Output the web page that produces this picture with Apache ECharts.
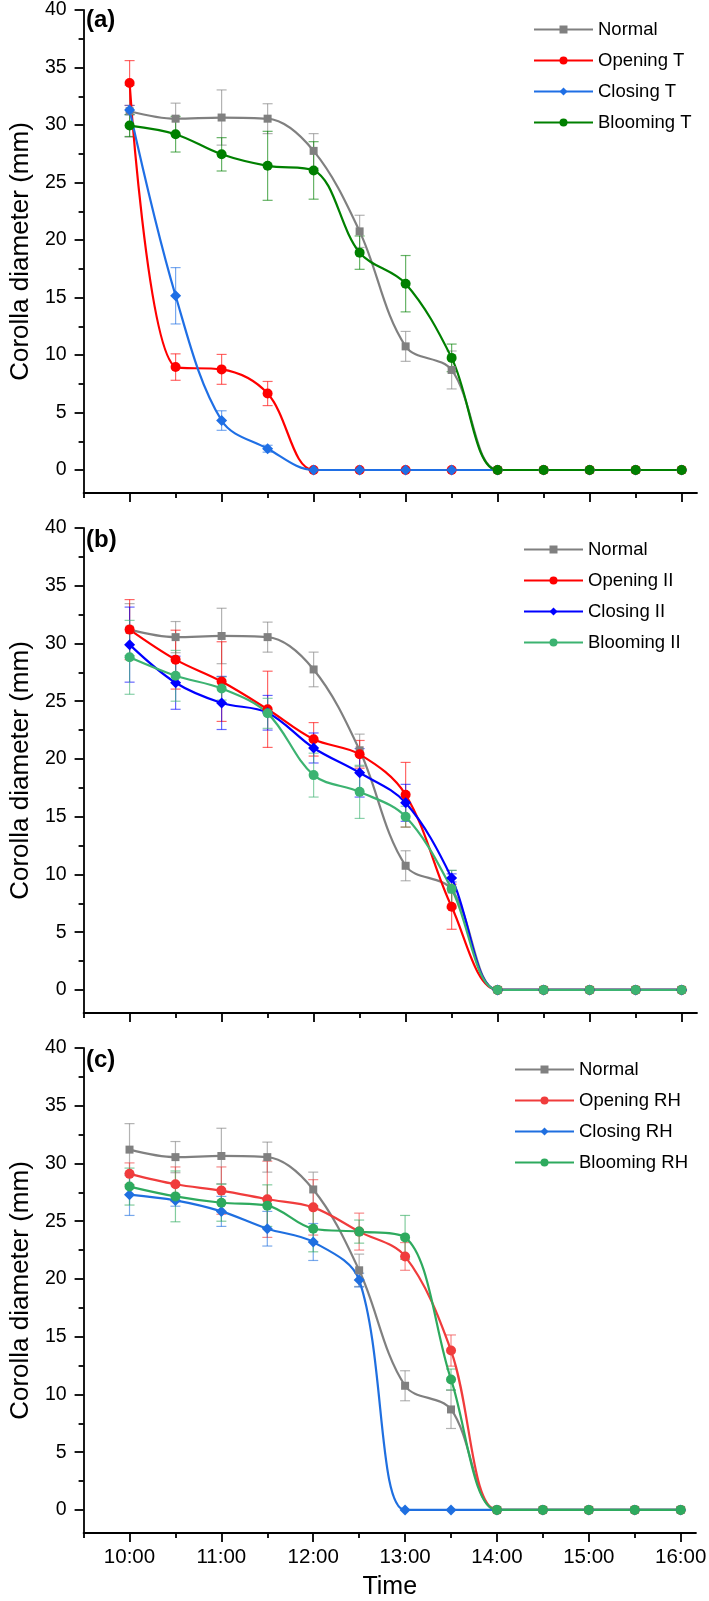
<!DOCTYPE html>
<html>
<head>
<meta charset="utf-8">
<script src="https://cdn.jsdelivr.net/npm/echarts@6/dist/echarts.min.js"></script>
<style>
  html, body { margin: 0; padding: 0; background: #fff; }
  #chart { width: 709px; height: 1601px; }
</style>
</head>
<body>
<div id="chart"></div>
<script>
// time points (every 30 min)
const times = ['10:00', '10:30', '11:00', '11:30', '12:00', '12:30', '13:00',
  '13:30', '14:00', '14:30', '15:00', '15:30', '16:00']
const yTicks = [0, 5, 10, 15, 20, 25, 30, 35, 40]
const hourTicks = ['10:00', '11:00', '12:00', '13:00', '14:00', '15:00', '16:00']

// Normal (same control in all panels)
const normal = [31.2, 30.55, 30.65, 30.55, 27.75, 20.75, 10.75, 8.7, 0, 0, 0, 0, 0]
const normalErr = [2.25, 1.35, 2.4, 1.3, 1.5, 1.4, 1.3, 1.65, 0, 0, 0, 0, 0]

// (a) temperature
const openingT = [33.65, 8.95, 8.75, 6.65, 0, 0, 0, 0, 0, 0, 0, 0, 0]
const openingTErr = [1.95, 1.15, 1.3, 1.05, 0, 0, 0, 0, 0, 0, 0, 0, 0]
const closingT = [31.3, 15.15, 4.3, 1.85, 0, 0, 0, 0, 0, 0, 0, 0, 0]
const closingTErr = [0.4, 2.45, 0.85, 0.3, 0, 0, 0, 0, 0, 0, 0, 0, 0]
const bloomingT = [29.95, 29.2, 27.45, 26.45, 26.05, 18.9, 16.2, 9.75, 0, 0, 0, 0, 0]
const bloomingTErr = [0.95, 1.55, 1.45, 3.0, 2.5, 1.45, 2.45, 1.2, 0, 0, 0, 0, 0]

// (b) light
const openingII = [31.2, 28.6, 26.7, 24.3, 21.7, 20.4, 16.9, 7.2, 0, 0, 0, 0, 0]
const openingIIErr = [2.6, 2.55, 3.45, 3.3, 1.45, 1.2, 2.8, 1.95, 0, 0, 0, 0, 0]
const closingII = [29.9, 26.6, 24.85, 24.0, 20.95, 18.8, 16.2, 9.7, 0, 0, 0, 0, 0]
const closingIIErr = [3.25, 2.3, 2.3, 1.5, 1.3, 2.1, 1.6, 0.35, 0, 0, 0, 0, 0]
const bloomingII = [28.8, 27.2, 26.1, 23.95, 18.6, 17.15, 15.0, 8.75, 0, 0, 0, 0, 0]
const bloomingIIErr = [3.2, 2.2, 1.0, 1.3, 1.9, 2.3, 0.9, 1.6, 0, 0, 0, 0, 0]

// (c) humidity
const openingRH = [29.1, 28.2, 27.65, 26.9, 26.2, 24.1, 21.95, 13.8, 0, 0, 0, 0, 0]
const openingRHErr = [0.95, 1.5, 2.05, 3.3, 2.4, 1.6, 1.2, 1.35, 0, 0, 0, 0, 0]
const closingRH = [27.3, 26.8, 25.85, 24.35, 23.2, 19.9, 0, 0, 0, 0, 0, 0, 0]
const closingRHErr = [1.8, 0.5, 1.3, 1.5, 1.6, 0.6, 0, 0, 0, 0, 0, 0, 0]
const bloomingRH = [28.0, 27.15, 26.6, 26.35, 24.35, 24.1, 23.6, 11.3, 0, 0, 0, 0, 0]
const bloomingRHErr = [1.6, 2.2, 1.6, 1.8, 2.0, 1.0, 1.9, 0.9, 0, 0, 0, 0, 0]

const panels = [
  { tag: '(a)', top: 8, legendLeft: 528,
    names: ['Normal', 'Opening T', 'Closing T', 'Blooming T'],
    colors: ['#808080', '#ff0000', '#1f6fe5', '#008000'],
    means: [normal, openingT, closingT, bloomingT],
    errs: [normalErr, openingTErr, closingTErr, bloomingTErr] },
  { tag: '(b)', top: 528, legendLeft: 518,
    names: ['Normal', 'Opening II', 'Closing II', 'Blooming II'],
    colors: ['#808080', '#ff0000', '#0000ff', '#3cb371'],
    means: [normal, openingII, closingII, bloomingII],
    errs: [normalErr, openingIIErr, closingIIErr, bloomingIIErr] },
  { tag: '(c)', top: 1048, legendLeft: 509,
    names: ['Normal', 'Opening RH', 'Closing RH', 'Blooming RH'],
    colors: ['#808080', '#f03c3c', '#1f6fe0', '#2eaa5e'],
    means: [normal, openingRH, closingRH, bloomingRH],
    errs: [normalErr, openingRHErr, closingRHErr, bloomingRHErr] }
]
const symbols = ['rect', 'circle', 'diamond', 'circle']
const symbolSizes = [8, 10, 11, 10]

const FONT = 'Arial, "Liberation Sans", sans-serif'
const gridH = 485

function toMin(t) {
  let p = t.split(':')
  return (+p[0] - 10) * 60 + (+p[1])
}
function fmtMin(v) {
  let h = 10 + Math.floor(v / 60)
  let m = v % 60
  return h + ':' + (m < 10 ? '0' + m : m)
}
function fade(hex, a) {
  let n = parseInt(hex.slice(1), 16)
  return 'rgba(' + (n >> 16) + ',' + ((n >> 8) & 255) + ',' + (n & 255) + ',' + a + ')'
}

const majorX = hourTicks.map(toMin)
const minorX = [-30].concat(times.map(toMin).filter(v => v % 60 !== 0))
const minorY = yTicks.slice(0, -1).map(v => v + 2.5)

let grid = [], xAxis = [], yAxis = [], series = [], legend = [], title = []

panels.forEach((p, i) => {
  let last = i === panels.length - 1
  grid.push({ left: 71, right: 12, top: p.top, height: gridH })
  title.push({
    text: p.tag, left: 81, top: p.top - 5,
    textStyle: { fontFamily: FONT, fontSize: 24, fontWeight: 'bold', color: '#000' }
  })
  // main x axis
  xAxis.push({
    type: 'value', gridIndex: i, min: -30, max: 370, position: 'bottom',
    axisLine: { onZero: false, lineStyle: { color: '#000', width: 1.8 } },
    axisTick: { customValues: majorX, length: 9, lineStyle: { color: '#000', width: 1.8 } },
    axisLabel: {
      show: last, customValues: majorX, formatter: fmtMin, margin: 14,
      fontFamily: FONT, fontSize: 20.5, color: '#000'
    },
    splitLine: { show: false },
    name: last ? 'Time' : '', nameLocation: 'middle', nameGap: 42,
    nameTextStyle: { fontFamily: FONT, fontSize: 25, color: '#000' }
  })
  // half-hour ticks
  xAxis.push({
    type: 'value', gridIndex: i, min: -30, max: 370, position: 'bottom',
    axisLine: { show: false, onZero: false },
    axisTick: { customValues: minorX, length: 5, lineStyle: { color: '#000', width: 1.8 } },
    axisLabel: { show: false },
    splitLine: { show: false }
  })
  yAxis.push({
    type: 'value', gridIndex: i, min: -2, max: 40, position: 'left',
    axisLine: { show: true, onZero: false, lineStyle: { color: '#000', width: 1.8 } },
    axisTick: { show: true, customValues: yTicks, length: 9, lineStyle: { color: '#000', width: 1.8 } },
    axisLabel: {
      customValues: yTicks, margin: 17,
      fontFamily: FONT, fontSize: 19.5, color: '#000'
    },
    splitLine: { show: false },
    name: 'Corolla diameter (mm)', nameLocation: 'middle', nameGap: 46,
    nameTextStyle: { fontFamily: FONT, fontSize: 26, color: '#000' }
  })
  yAxis.push({
    type: 'value', gridIndex: i, min: -2, max: 40, position: 'left',
    axisLine: { show: false, onZero: false },
    axisTick: { show: true, customValues: minorY, length: 5, lineStyle: { color: '#000', width: 1.8 } },
    axisLabel: { show: false },
    splitLine: { show: false }
  })

  p.names.forEach((name, k) => {
    let col = p.colors[k]
    // error bars first, under the lines
    let bars = []
    times.forEach((t, j) => {
      let e = p.errs[k][j]
      if (e > 0) bars.push([toMin(t), p.means[k][j] - e, p.means[k][j] + e])
    })
    series.push({
      type: 'custom', name: name + ' err', xAxisIndex: 2 * i, yAxisIndex: 2 * i,
      z: 1, silent: true, data: bars,
      renderItem: function (params, api) {
        let x = api.value(0)
        let a = api.coord([x, api.value(1)])
        let b = api.coord([x, api.value(2)])
        let w = 5
        let st = { stroke: fade(col, 0.6), lineWidth: 1.2 }
        return {
          type: 'group', children: [
            { type: 'line', shape: { x1: a[0], y1: a[1], x2: b[0], y2: b[1] }, style: st },
            { type: 'line', shape: { x1: a[0] - w, y1: a[1], x2: a[0] + w, y2: a[1] }, style: st },
            { type: 'line', shape: { x1: b[0] - w, y1: b[1], x2: b[0] + w, y2: b[1] }, style: st }
          ]
        }
      }
    })
    series.push({
      type: 'line', name: name, xAxisIndex: 2 * i, yAxisIndex: 2 * i, z: 2,
      data: times.map((t, j) => [toMin(t), p.means[k][j]]),
      smooth: 0.35,
      symbol: symbols[k], symbolSize: symbolSizes[k], showSymbol: true,
      color: col,
      lineStyle: { color: col, width: 2.2 },
      itemStyle: { color: col }
    })
  })

  legend.push({
    data: p.names, orient: 'vertical', left: p.legendLeft, top: p.top + 7,
    itemWidth: 59, itemHeight: 10, itemGap: 12,
    textStyle: { fontFamily: FONT, fontSize: 18.5, color: '#000' }
  })
})

const chart = echarts.init(document.getElementById('chart'), null, { renderer: 'canvas' })
chart.setOption({
  animation: false,
  backgroundColor: '#fff',
  title: title,
  legend: legend,
  grid: grid,
  xAxis: xAxis,
  yAxis: yAxis,
  series: series
})
</script>
</body>
</html>
